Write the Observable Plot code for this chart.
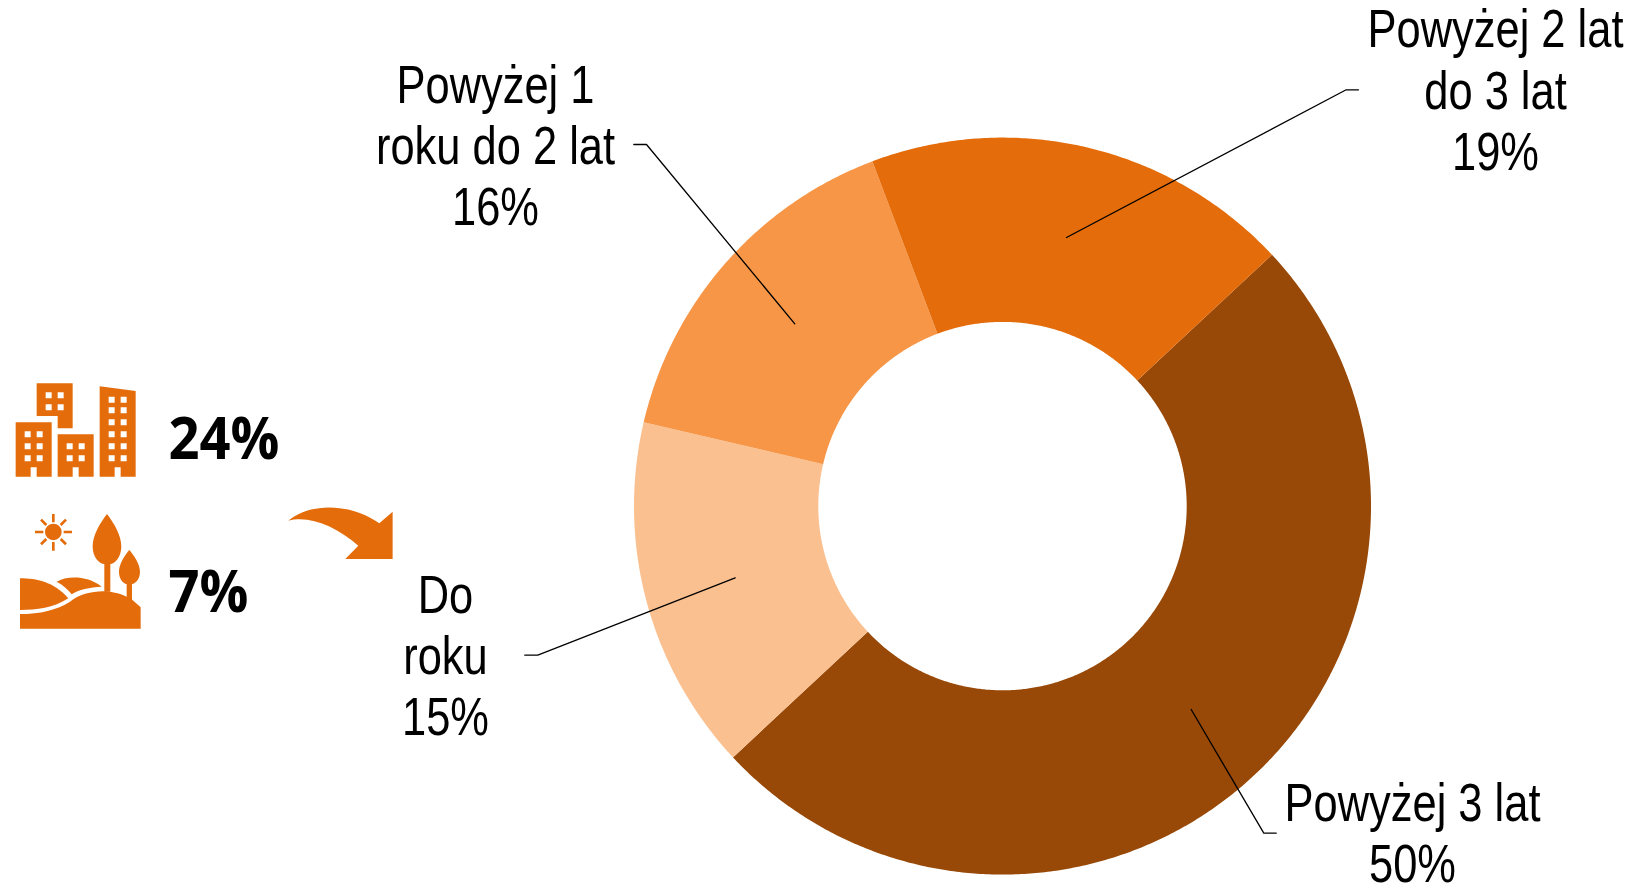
<!DOCTYPE html>
<html lang="pl">
<head>
<meta charset="utf-8">
<script src="https://cdn.jsdelivr.net/npm/d3@7"></script>
<script src="https://cdn.jsdelivr.net/npm/@observablehq/plot@0.6"></script>
<style>
html,body{margin:0;padding:0;background:#fff;overflow:hidden}
svg{display:block}
</style>
</head>
<body>
<div id="chart"></div>
<script>
const categories = ["Powyżej 3 lat", "Do roku", "Powyżej 1 roku do 2 lat", "Powyżej 2 lat do 3 lat"];
const shares = [50, 15.6, 15.6, 18.8];
const colors = ["#984807", "#FAC090", "#F79646", "#E46C0A"];
const labelTexts = ["Powyżej 3 lat\n50%", "Do\nroku\n15%", "Powyżej 1\nroku do 2 lat\n16%", "Powyżej 2 lat\ndo 3 lat\n19%"];
const labelX = [1412, 445, 495, 1495];
const labelY = [831.5, 654, 144, 88.5];
const leaderX = [[1190.7,1263.3,1275.7],[734.7,537.3,524.3],[794.3,646,633.3],[1066,1345.7,1358]];
const leaderY = [[709,832.7,832.7],[577.3,654.7,654.7],[323.3,144,144],[237,89.3,89.3]];
const statValues = ["24%", "7%"];
const statX = [168, 168];
const statY = [458, 611];

const cx = 1002, cy = 505.6, R = 368.5, r = 184.2;
const pie = d3.pie().sort(null).value(d => d).startAngle(47*Math.PI/180).endAngle((47+360)*Math.PI/180)(shares);
const ringPoints = pie.flatMap((s, i) => {
  const n = Math.ceil((s.endAngle - s.startAngle) / 0.008);
  const angs = d3.range(n + 1).map(k => s.startAngle + (s.endAngle - s.startAngle) * k / n);
  const pt = (a, rad) => ({cat: categories[i], x: cx + rad*Math.sin(a), y: cy - rad*Math.cos(a)});
  return [...angs.map(a => pt(a, R)), ...angs.reverse().map(a => pt(a, r))];
});
const leaders = leaderX.flatMap((xs, i) => xs.map((x, k) => ({cat: categories[i], x, y: leaderY[i][k]})));
const labels = labelTexts.map((text, i) => ({text, x: labelX[i], y: labelY[i]}));
const stats = statValues.map((text, i) => ({text, x: statX[i], y: statY[i]}));

const ORANGE = "#E46C0A";
function rects(xs, ys){ return xs.flatMap(x => ys.map(y => `M${x},${y}h18v18h-18z`)).join(""); }
const iconPaths = [
  "M110,70H218V205H173V168H110Z" + rects([137,173],[97,133]),
  "M47,187H155V350H110V322H92V350H47Z" + rects([74,110],[214,250,286]),
  "M173,223H281V350H236V322H218V350H173Z" + rects([200,236],[250,286]),
  "M299,79L407,93V350H362V322H344V350H299Z" + rects([326,362],[110,142,178,214,250,286]),
  "M321,462C300,490 278,525 278,560C278,590 298,612 313,612V695H331V612C344,612 364,590 364,560C364,525 342,490 321,462Z",
  "M388,570C375,585 357,612 357,635C357,655 368,670 380,672V720H396V672C408,670 420,655 420,635C420,612 401,585 388,570Z",
  "M60,655C110,655 160,665 205,715C160,745 110,750 60,750Z",
  "M170,665C200,648 260,645 305,680C270,682 235,688 215,703C205,690 190,675 170,665Z",
  "M60,762C120,762 170,750 210,725C240,700 290,690 330,695C350,698 370,703 395,718L422,742V806H60Z",
  "M865,482C930,428 1050,428 1138,490L1178,455V597H1036L1075,557C1010,500 930,465 865,482Z"
];
const sunRays = "M105,516H130M191,516H216M160,462V487M160,546V572M123,479L139,495M198,479L182,495M123,553L139,537M198,553L182,537";

function icons(){
  const g = d3.create("svg:g").attr("transform", "translate(0,360) scale(0.3333)");
  iconPaths.forEach(d => g.append("path").attr("d", d).attr("fill", ORANGE).attr("fill-rule", "evenodd"));
  g.append("circle").attr("cx",160).attr("cy",516).attr("r",25).attr("fill",ORANGE);
  g.append("path").attr("d",sunRays).attr("stroke",ORANGE).attr("stroke-width",8).attr("fill","none");
  return g.node();
}
const squeeze = k => (index, scales, values, dims, ctx, next) => {
  const g = next(index, scales, values, dims, ctx);
  g.querySelectorAll("text").forEach(t => t.setAttribute("transform", (t.getAttribute("transform") || "") + ` scale(${k} 1)`));
  return g;
};

const chart = Plot.plot({
  width: 1632, height: 886,
  margin: 0,
  x: {domain:[0,1632], range:[0,1632], axis:null},
  y: {domain:[0,886], range:[0,886], axis:null},
  color: {type:"ordinal", domain:categories, range:colors},
  style: {background:"#fff"},
  marks: [
    Plot.line(ringPoints, {x:"x", y:"y", z:"cat", fill:"cat", stroke:"none", curve:"linear"}),
    Plot.line(leaders, {x:"x", y:"y", z:"cat", stroke:"#000", strokeWidth:1.3, curve:"linear"}),
    Plot.text(labels, {x:"x", y:"y", text:"text", textAnchor:"middle", lineHeight:1.149, fontSize:53.33,
      fontFamily:"'Liberation Sans',sans-serif", fill:"#000", render:squeeze(0.815)}),
    Plot.text(stats, {x:"x", y:"y", text:"text", textAnchor:"start", lineAnchor:"bottom", fontSize:59, fontWeight:700,
      fontFamily:"'Open Sans',sans-serif", fill:"#000", render:squeeze(0.92)}),
    icons
  ]
});
document.getElementById("chart").append(chart);
</script>
</body>
</html>
